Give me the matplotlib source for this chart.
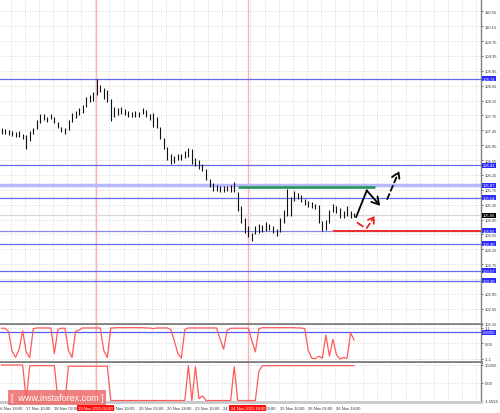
import numpy as np
import matplotlib.pyplot as plt

# 2-hour bars
bar_hi = [107.40, 107.38, 107.35, 107.33, 107.30, 107.32, 107.25, 107.22, 107.32, 107.42,
          107.62, 107.80, 107.78, 107.72, 107.80, 107.72, 107.58, 107.45, 107.40, 107.62,
          107.82, 107.88, 107.95, 108.02, 108.25, 108.30, 108.38, 108.73, 108.58, 108.50,
          108.42, 108.20, 107.98, 107.95, 107.98, 107.92, 107.88, 107.85, 107.88, 107.85,
          107.95, 107.90, 107.80, 107.82, 107.70, 107.45, 107.15, 106.90, 106.70, 106.65,
          106.70, 106.72, 106.78, 106.88, 106.85, 106.60, 106.55, 106.45, 106.30, 106.05,
          105.92, 105.88, 105.84, 105.86, 105.85, 105.88, 105.96, 105.70, 105.30, 104.98,
          104.78, 104.60, 104.78, 104.83, 104.80, 104.88, 104.84, 104.78, 104.70, 104.98,
          105.20, 105.77, 105.55, 105.72, 105.66, 105.60, 105.50, 105.45, 105.42, 105.38,
          105.35, 104.92, 104.95, 105.20, 105.37, 105.32, 105.25, 105.18, 105.32, 105.18,
          105.12]
bar_lo = [107.26, 107.24, 107.22, 107.20, 107.18, 107.17, 107.12, 106.85, 107.05, 107.25,
          107.38, 107.55, 107.62, 107.58, 107.65, 107.55, 107.40, 107.30, 107.25, 107.35,
          107.58, 107.68, 107.75, 107.82, 107.98, 108.12, 108.15, 108.30, 108.38, 108.20,
          108.12, 107.60, 107.72, 107.75, 107.80, 107.75, 107.72, 107.70, 107.72, 107.72,
          107.78, 107.70, 107.62, 107.43, 107.40, 107.12, 106.85, 106.55, 106.45, 106.48,
          106.55, 106.56, 106.60, 106.62, 106.45, 106.38, 106.30, 106.25, 106.00, 105.82,
          105.72, 105.72, 105.70, 105.70, 105.72, 105.70, 105.70, 105.18, 104.85, 104.60,
          104.48, 104.37, 104.55, 104.60, 104.62, 104.65, 104.66, 104.60, 104.50, 104.62,
          104.85, 105.05, 105.05, 105.45, 105.50, 105.42, 105.35, 105.28, 105.25, 105.22,
          104.85, 104.64, 104.68, 104.85, 105.15, 105.12, 105.00, 104.98, 105.05, 105.00,
          105.02]

osc1 = [1.08, 1.08, 0.85, -0.55, -0.98, -0.40, 0.90, -0.62, -1.00, 1.05,
        1.10, 1.10, 1.10, 1.10, 1.10, -0.70, 1.00, 1.08, 1.08, -0.50,
        -1.00, 0.85, 0.95, 1.10, 1.10, 1.10, 1.10, 1.10, 1.10, -0.50,
        -1.00, 1.10, 1.10, 1.12, 1.12, 1.12, 1.12, 1.12, 1.12, 1.12,
        1.12, 1.10, 1.10, 1.05, 1.10, 1.10, 1.10, 1.10, 1.00, 0.20,
        -0.70, -1.05, 1.00, 1.10, 1.10, 1.10, 1.10, 1.10, 1.10, 1.10,
        1.10, 1.10, 0.30, -0.40, 0.95, 1.08, 1.08, 1.08, 1.08, 1.08,
        1.08, 0.20, -0.60, 1.05, 1.12, 1.12, 1.12, 1.12, 1.12, 1.12,
        1.12, 1.12, 1.12, 1.12, 1.10, 1.10, 1.05, -0.50, -1.05, -1.08,
        -0.90, -1.05, 0.60, -0.90, 0.30, -0.80, -1.10, -1.00, -1.05, 0.75,
        0.25]

osc2 = [1.55, 1.55, 1.55, 1.55, 1.55, 1.55, 1.55, -1.55, 1.50, 1.50,
        1.50, 1.50, 1.50, 1.50, 1.50, 1.50, -1.55, -1.55, -1.55, 1.45,
        1.45, 1.45, 1.45, 1.45, 1.45, 1.45, 1.45, 1.45, 1.45, 1.45,
        1.45, -1.55, -1.55, -1.55, -1.55, -1.55, -1.55, -1.55, -1.55, -1.55,
        -1.55, -1.55, -1.55, -1.55, -1.55, -1.55, -1.55, -1.55, -1.55, -1.55,
        -1.55, -1.55, -1.55, 1.50, -1.55, 1.40, -1.40, -1.15, -1.55, -1.55,
        -1.55, -1.55, -1.55, -1.55, -1.55, -1.55, 1.40, -1.55, -1.55, -1.55,
        -1.55, -1.55, -1.55, 1.00, 1.50, 1.50, 1.50, 1.50, 1.50, 1.50,
        1.50, 1.50, 1.50, 1.50, 1.50, 1.50, 1.50, 1.50, 1.50, 1.50,
        1.50, 1.50, 1.50, 1.50, 1.50, 1.50, 1.50, 1.50, 1.50, 1.50,
        1.50]

price_ticks = [102.15, 102.55, 102.95, 103.35, 103.75, 104.15, 104.55, 104.95, 105.35,
               105.75, 106.15, 106.55, 106.95, 107.35, 107.75, 108.15, 108.55, 108.95,
               109.35, 109.75, 110.15, 110.55]
blue_levels = [108.74, 106.41, 105.54, 104.30, 103.57, 103.30]
wide_level = 105.87
green_level = 105.82
support = 104.65
last_price = 105.06

time_labels = ['16 Nov 18:00', '17 Nov 10:00', '18 Nov 02:00', '18 Nov 18:00',
               '19 Nov 10:00', '20 Nov 02:00', '20 Nov 18:00', '23 Nov 10:00',
               '24 Nov 02:00', '24 Nov 18:00', '25 Nov 10:00', '26 Nov 02:00',
               '26 Nov 18:00']
vline_pos = [26.7, 69.9]
vline_labels = ['19 Nov 2015 02:00', '24 Nov 2015 18:00']

# forecast arrows (bar, price)
black_path = [(100.6, 105.02), (103.6, 105.73), (107.4, 105.32)]
black_dash = [(109.4, 105.50), (112.8, 106.26)]
red_dash = [(101.0, 104.86), (102.4, 104.77)]
red_arrow = [(103.6, 104.72), (105.9, 105.05)]

W, H = 500, 414
plt.rcParams['font.family'] = ['Liberation Sans', 'DejaVu Sans']
fig = plt.figure(figsize=(W / 100, H / 100), dpi=100)


def px_axes(x0, y0, x1, y1):
    return fig.add_axes([x0 / W, 1 - y1 / H, (x1 - x0) / W, (y1 - y0) / H])


def tag(a, y, text, fc):
    a.text(1.004, y, text, transform=a.get_yaxis_transform(), ha='left', va='center',
           fontsize=3, color='white', zorder=10, clip_on=False,
           bbox=dict(boxstyle='square,pad=0.15', fc=fc, ec='none'))


XMIN, XMAX = -0.43, 136.0
grid_x = np.arange(2.6, XMAX, 4)
x = np.arange(len(bar_hi))

ax = px_axes(0, 0, 481, 325)
ax1 = px_axes(0, 326, 481, 362.5)
ax2 = px_axes(0, 364, 481, 403)

for a in (ax, ax1, ax2):
    a.set_xlim(XMIN, XMAX)
    a.set_xticks(grid_x)
    a.yaxis.tick_right()
    a.tick_params(axis='x', length=0, labelbottom=False)
    a.tick_params(axis='y', length=1.5, width=0.5, pad=1, labelsize=3, colors='#333333')
    a.grid(True, color='#cfcfcf', lw=0.5, ls=(0, (1.5, 2)))
    a.set_axisbelow(True)
    for s in ('left', 'top'):
        a.spines[s].set_visible(False)
    a.spines['right'].set_color('#808080')
    a.spines['right'].set_linewidth(1)
    a.spines['bottom'].set_color('#808080')
    a.spines['bottom'].set_linewidth(2)
    for v in vline_pos:
        a.axvline(v, color='#ffb0b0', lw=1, zorder=1)
ax2.spines['bottom'].set_color('#c8c8c8')

# main price panel
ax.set_ylim(102.14, 110.88)
ax.set_yticks(price_ticks)
ax.set_yticklabels([f'{p:.2f}' for p in price_ticks])
for lv in blue_levels:
    ax.axhline(lv, color='#6a6aee', lw=0.9, zorder=2)
    tag(ax, lv, f'{lv:.2f}', '#2a2aff')
ax.axhline(wide_level, color='#b8b8ff', lw=2.5, zorder=2)
tag(ax, wide_level, f'{wide_level:.2f}', '#2a2aff')
ax.axhline(support, color='#8888ee', lw=0.9, zorder=2)
ax.hlines(support, 94.0, XMAX, color='#ee3030', lw=1.5, zorder=3)
tag(ax, support, f'{support:.2f}', '#2a2aff')
ax.axhline(last_price, color='#d8d8d8', lw=0.9, zorder=2)
tag(ax, last_price, f'{last_price:.2f}', 'black')
ax.hlines(green_level, 67.1, 106.0, color='#2e9960', lw=2, zorder=3)

ax.vlines(x, bar_lo, bar_hi, color='#111111', lw=0.8, zorder=5)

ax.plot([p[0] for p in black_path[:2]], [p[1] for p in black_path[:2]],
        color='black', lw=1.3, zorder=6)
ax.annotate('', xy=black_path[2], xytext=black_path[1], zorder=6,
            arrowprops=dict(arrowstyle='->,head_length=0.5,head_width=0.3',
                            color='black', lw=1.3, shrinkA=0, shrinkB=0))
ax.annotate('', xy=black_dash[1], xytext=black_dash[0], zorder=6,
            arrowprops=dict(arrowstyle='->,head_length=0.5,head_width=0.3',
                            color='black', lw=1.3, ls=(0, (3, 2)), shrinkA=0, shrinkB=0))
ax.plot([p[0] for p in red_dash], [p[1] for p in red_dash], color='#ee2020', lw=1.3, zorder=6)
ax.annotate('', xy=red_arrow[1], xytext=red_arrow[0], zorder=6,
            arrowprops=dict(arrowstyle='->,head_length=0.4,head_width=0.25',
                            color='#ee2020', lw=1.3, ls=(0, (3, 2)), shrinkA=0, shrinkB=0))

# oscillator panel 1
ax1.set_ylim(-1.28, 1.31)
ax1.set_yticks([-1.1, 0, 1.1])
ax1.set_yticklabels(['-1.1', '0.00', '1.1'])
ax1.axhline(0.8, color='#5a5aee', lw=0.9, zorder=2)
tag(ax1, 0.8, '0.8000', '#2a2aff')
ax1.plot(x, osc1, color='#ff5a5a', lw=0.9, zorder=4)

# oscillator panel 2
ax2.set_ylim(-1.68, 1.73)
ax2.set_yticks([-1.5556, 0, 1.5556])
ax2.set_yticklabels(['-1.5556', '0.00', '1.5556'])
ax2.plot(x, osc2, color='#ff5a5a', lw=0.9, zorder=4)

# time axis
time_x = np.arange(-1.4, 96, 8)
for tx, lab in zip(time_x, time_labels):
    ax2.text(tx + 0.3, -0.155, lab, transform=ax2.get_xaxis_transform(), ha='left',
             va='center', fontsize=3, color='#333333', clip_on=False)
for v, lab in zip(vline_pos, vline_labels):
    ax2.text(v, -0.155, lab, transform=ax2.get_xaxis_transform(), ha='center',
             va='center', fontsize=3, color='white', clip_on=False, zorder=10,
             bbox=dict(boxstyle='square,pad=0.3', fc='#ff1010', ec='none'))

fig.text(57 / W, 1 - 398.5 / H, '[  www.instaforex.com ]', ha='center', va='center',
         fontsize=6.5, color='white',
         bbox=dict(boxstyle='square,pad=0.3', fc='#ee6b6b', ec='none', alpha=0.85))

fig.savefig('out.png', dpi=100)
